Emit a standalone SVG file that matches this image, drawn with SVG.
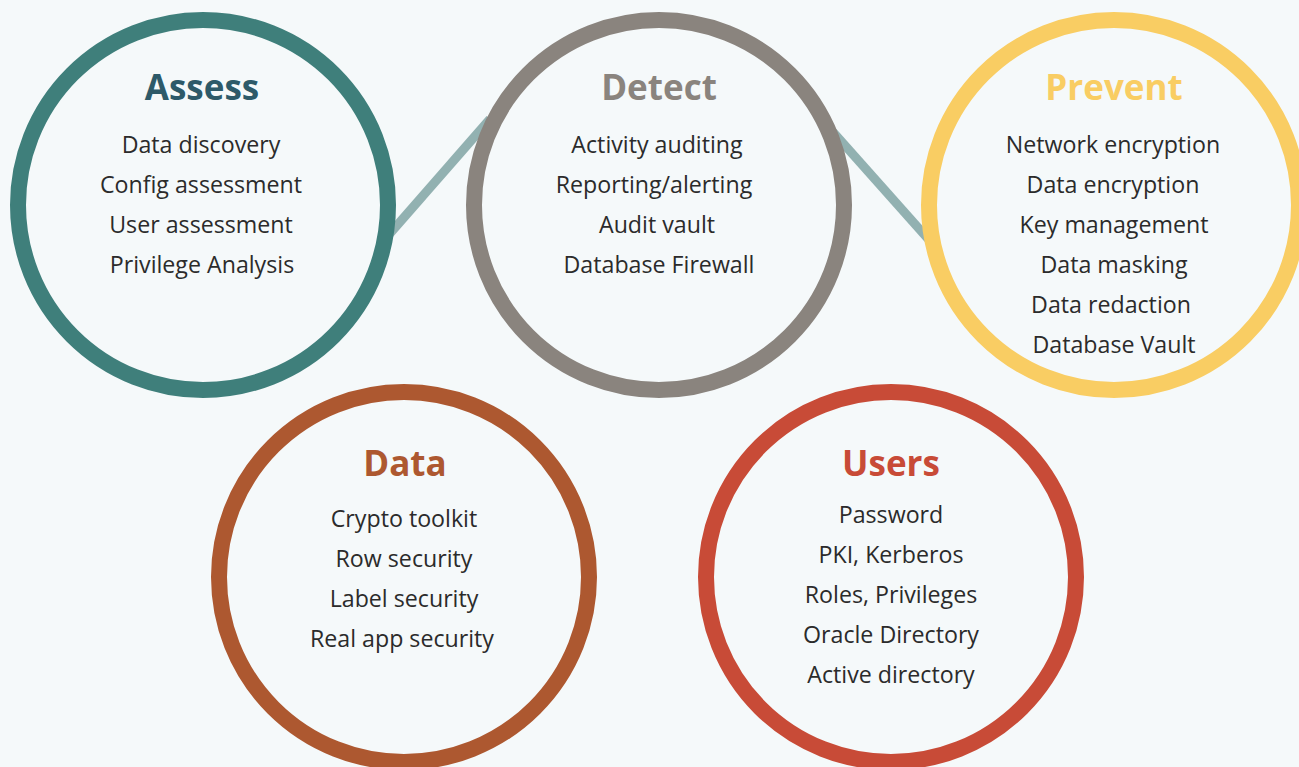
<svg xmlns="http://www.w3.org/2000/svg" width="1299" height="767" viewBox="0 0 1299 767">
<style>
.ring{fill:#f5f9fa;stroke-width:16}
.title{font-family:"Open Sans","Noto Sans",sans-serif;font-weight:700;font-size:35px;text-anchor:middle}
.item{font-family:"Open Sans","Noto Sans",sans-serif;font-size:23.2px;fill:#2b2b2b;text-anchor:middle}
.conn{stroke:#92b1b1;stroke-width:9;fill:none}
</style>
<rect width="1299" height="767" fill="#f5f9fa"/>
<g id="connectors">
<line class="conn" x1="386" y1="238" x2="490" y2="119"/>
<line class="conn" x1="833" y1="132" x2="930" y2="241"/>
</g>
<g id="assess">
<circle class="ring" cx="203" cy="205" r="185" stroke="#3f7f7b"/>
<text class="title" x="202" y="100" fill="#2d5a69">Assess</text>
<text class="item" x="201" y="153">Data discovery</text>
<text class="item" x="201" y="193">Config assessment</text>
<text class="item" x="201" y="233">User assessment</text>
<text class="item" x="202" y="273">Privilege Analysis</text>
</g>
<g id="detect">
<circle class="ring" cx="659" cy="205" r="185" stroke="#8a847e"/>
<text class="title" x="659" y="100" fill="#8a847e">Detect</text>
<text class="item" x="657" y="153">Activity auditing</text>
<text class="item" x="654" y="193">Reporting/alerting</text>
<text class="item" x="657" y="233">Audit vault</text>
<text class="item" x="659" y="273">Database Firewall</text>
</g>
<g id="prevent">
<circle class="ring" cx="1114" cy="205" r="185" stroke="#f9cd63"/>
<text class="title" x="1114" y="100" fill="#f9cd63">Prevent</text>
<text class="item" x="1113" y="153">Network encryption</text>
<text class="item" x="1113" y="193">Data encryption</text>
<text class="item" x="1114" y="233">Key management</text>
<text class="item" x="1114" y="273">Data masking</text>
<text class="item" x="1111" y="313">Data redaction</text>
<text class="item" x="1114" y="353">Database Vault</text>
</g>
<g id="data">
<circle class="ring" cx="404" cy="577" r="185" stroke="#ad5830"/>
<text class="title" x="405" y="476" fill="#ad5830">Data</text>
<text class="item" x="404" y="527">Crypto toolkit</text>
<text class="item" x="404" y="567">Row security</text>
<text class="item" x="404" y="607">Label security</text>
<text class="item" x="402" y="647">Real app security</text>
</g>
<g id="users">
<circle class="ring" cx="891" cy="577" r="185" stroke="#c84b37"/>
<text class="title" x="891" y="476" fill="#c84b37">Users</text>
<text class="item" x="891" y="523">Password</text>
<text class="item" x="891" y="563">PKI, Kerberos</text>
<text class="item" x="891" y="603">Roles, Privileges</text>
<text class="item" x="891" y="643">Oracle Directory</text>
<text class="item" x="891" y="683">Active directory</text>
</g>
</svg>
